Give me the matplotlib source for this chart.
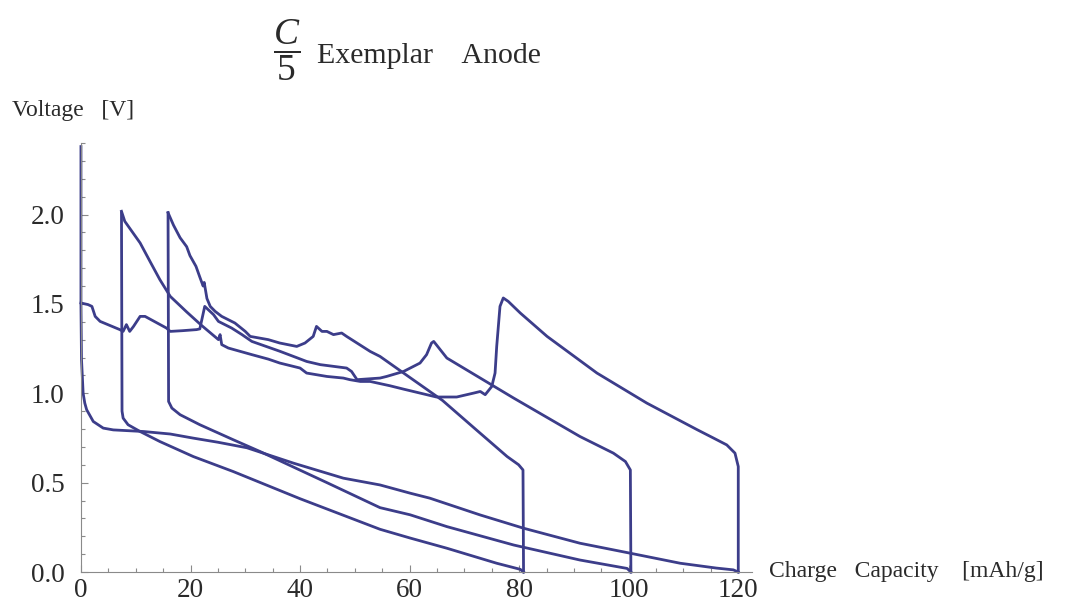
import matplotlib
matplotlib.use("Agg")
import matplotlib.pyplot as plt
from matplotlib.ticker import MultipleLocator

# discharge curves (capacity in mAh/g, voltage in V)
d1_cap = [0.0, 0.0, 0.1, 0.4, 0.7, 1.04, 2.25, 4.07, 5.9, 11.4, 16.3, 20.5, 25.0, 30.3,
          38.8, 47.9, 54.6, 60.1, 63.7, 72.9, 80.8, 91.1, 100.3, 109.4, 116.0, 119.1, 120.0]
d1_volt = [2.38, 1.5, 1.19, 1.0, 0.945, 0.908, 0.842, 0.805, 0.795, 0.786, 0.772, 0.749, 0.726, 0.695,
           0.609, 0.525, 0.487, 0.441, 0.413, 0.319, 0.245, 0.161, 0.105, 0.049, 0.022, 0.012, 0.0]

d2_cap = [7.4, 7.5, 7.7, 8.6, 10.8, 14.4, 20.5, 27.8, 40.0, 54.6, 60.1, 66.8, 75.9, 80.2, 80.8]
d2_volt = [2.01, 0.9, 0.861, 0.824, 0.786, 0.73, 0.646, 0.562, 0.41, 0.239, 0.19, 0.133, 0.049, 0.015, 0.0]

d3_cap = [15.9, 16.0, 16.6, 18.1, 21.7, 27.8, 32.7, 44.9, 54.6, 60.1, 66.8, 79.0, 91.1, 99.7, 100.4]
d3_volt = [2.01, 0.954, 0.917, 0.88, 0.824, 0.74, 0.674, 0.50, 0.36, 0.32, 0.254, 0.151, 0.067, 0.02, 0.0]

# charge curves, plotted from the end of each discharge back towards lower capacity
c1_cap = [120.0, 120.0, 119.4, 117.9, 115.5, 112.5, 103.3, 94.2, 85.1, 80.2, 78.0, 77.1, 76.5,
          75.9, 75.6, 75.0, 73.8, 72.9, 71.7, 68.6, 64.9, 61.9, 58.9, 56.4, 52.8, 51.0, 49.1,
          47.9, 44.9, 41.2, 40.0, 36.3, 34.2, 31.2, 26.9, 25.7, 25.4, 25.1, 22.0, 19.3, 16.3,
          14.4, 12.6, 10.8, 8.0, 7.4]
c1_volt = [0.0, 0.59, 0.665, 0.711, 0.749, 0.796, 0.945, 1.113, 1.318, 1.449, 1.514, 1.533, 1.486,
           1.262, 1.113, 1.038, 0.992, 1.01, 1.001, 0.979, 0.979, 1.001, 1.023, 1.042, 1.066, 1.066, 1.076,
           1.085, 1.094, 1.113, 1.141, 1.169, 1.191, 1.216, 1.253, 1.272, 1.328, 1.30, 1.38, 1.455, 1.542,
           1.636, 1.738, 1.841, 1.962, 2.018]

c2_cap = [80.8, 80.7, 79.9, 77.8, 72.0, 66.0, 58.9, 54.6, 52.8, 48.5, 47.6, 46.1, 44.9, 44.0,
          43.0, 42.4, 40.9, 39.4, 36.3, 34.2, 30.9, 30.0, 28.1, 25.7, 24.5, 23.6, 23.0, 22.5,
          22.3, 21.7, 21.0, 19.9, 19.3, 18.1, 16.9, 15.9]
c2_volt = [0.0, 0.571, 0.60, 0.646, 0.80, 0.96, 1.113, 1.206, 1.234, 1.318, 1.337, 1.328, 1.346, 1.346,
           1.374, 1.318, 1.281, 1.262, 1.281, 1.30, 1.318, 1.346, 1.393, 1.43, 1.458, 1.486, 1.53, 1.62,
           1.60, 1.65, 1.71, 1.77, 1.82, 1.87, 1.94, 2.01]

c3_cap = [100.4, 100.3, 99.4, 97.2, 91.1, 79.0, 72.9, 66.8, 64.4, 64.0, 63.1, 61.9, 58.9, 55.8,
          54.6, 50.4, 49.4, 48.5, 43.7, 41.2, 38.8, 36.3, 31.2, 29.4, 27.5, 25.1, 24.2, 22.6,
          21.7, 21.1, 18.5, 16.3, 15.6, 11.7, 10.8, 9.6, 8.9, 8.3, 7.7, 7.1, 3.5, 2.6, 2.0,
          1.3, 0.0]
c3_volt = [0.0, 0.571, 0.618, 0.665, 0.758, 0.973, 1.085, 1.197, 1.29, 1.281, 1.216, 1.169, 1.122, 1.094,
           1.085, 1.076, 1.122, 1.141, 1.16, 1.178, 1.206, 1.235, 1.29, 1.328, 1.365, 1.402, 1.44, 1.486,
           1.36, 1.356, 1.35, 1.346, 1.365, 1.43, 1.43, 1.374, 1.346, 1.384, 1.346, 1.356, 1.402, 1.43, 1.486,
           1.496, 1.505]

x_ticks = [0, 20, 40, 60, 80, 100, 120]
y_ticks = [0.0, 0.5, 1.0, 1.5, 2.0]

LINE = "#3c3d8a"
AXIS = "#8a8a8a"
TEXT = "#2a2a2a"
SERIF = "Liberation Serif"

plt.rcParams.update({
    "font.family": SERIF,
    "mathtext.fontset": "custom",
    "mathtext.rm": SERIF,
    "mathtext.it": SERIF + ":italic",
})

fig = plt.figure(figsize=(10.75, 6.08), dpi=100)
ax = fig.add_axes([0.0753, 0.0592, 0.6242, 0.7056])

curves = [(d1_cap, d1_volt), (d2_cap, d2_volt), (d3_cap, d3_volt),
          (c1_cap, c1_volt), (c2_cap, c2_volt), (c3_cap, c3_volt)]
for cap, volt in curves:
    ax.plot(cap, volt, color=LINE, linewidth=2.0, solid_joinstyle="round", clip_on=False)

ax.set_xlim(0, 122.5)
ax.set_ylim(0, 2.40)
for side in ("top", "right"):
    ax.spines[side].set_visible(False)
for side in ("left", "bottom"):
    ax.spines[side].set_color(AXIS)
    ax.spines[side].set_linewidth(0.8)

ax.set_xticks(x_ticks)
ax.set_xticklabels([str(t) for t in x_ticks])
ax.set_yticks(y_ticks)
ax.set_yticklabels([f"{t:.1f}" for t in y_ticks])
ax.xaxis.set_minor_locator(MultipleLocator(5))
ax.yaxis.set_minor_locator(MultipleLocator(0.1))
ax.tick_params(which="both", direction="in", color=AXIS, width=0.8)
ax.tick_params(which="major", length=5)
ax.tick_params(which="minor", length=2.8)
ax.tick_params(axis="x", which="major", labelsize=19.5, labelcolor=TEXT, pad=4)
ax.tick_params(axis="y", which="major", labelsize=19.5, labelcolor=TEXT, pad=12)

# title: C/5 fraction drawn a bit larger than the words, like the original
fig.text(0.2665, 0.917, r"$\dfrac{C}{5}$", fontsize=27, color=TEXT, ha="center", va="center")
fig.text(0.295, 0.896, "Exemplar    Anode", fontsize=21.5, color=TEXT, ha="left", va="baseline")
fig.text(0.011, 0.81, "Voltage   [V]", fontsize=17, color=TEXT, ha="left", va="baseline")
fig.text(0.7153, 0.051, "Charge   Capacity    [mAh/g]", fontsize=17, color=TEXT,
         ha="left", va="baseline")

fig.savefig("out.png", dpi=100)
